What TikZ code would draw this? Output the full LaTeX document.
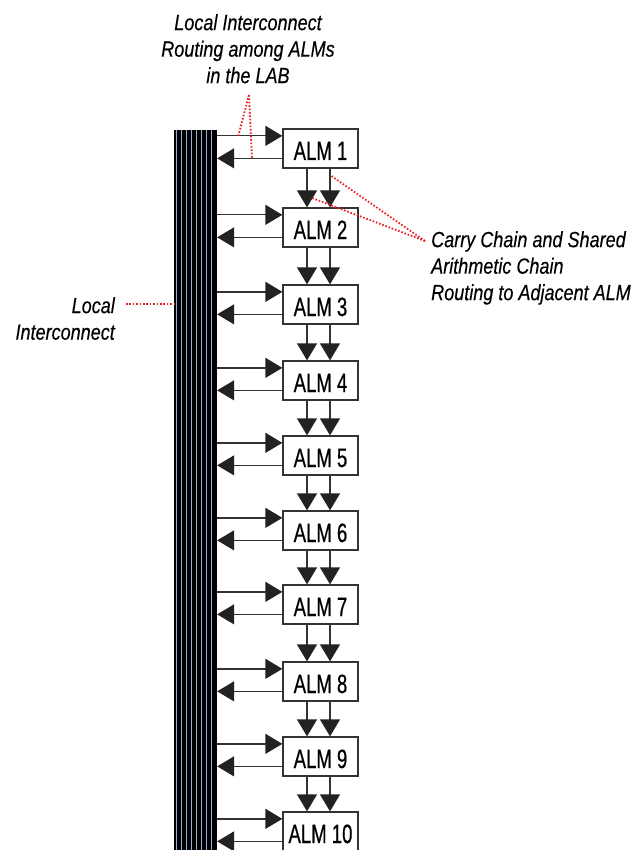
\documentclass[tikz,border=0pt]{standalone}
\usepackage{fontspec}
\setmainfont{Liberation Sans}
\newfontfamily\almfont{Liberation Sans}[FakeStretch=0.70,FakeBold=0.6]
\newfontfamily\lblfont{Liberation Sans}[FakeStretch=0.82,FakeBold=0.3]
\usetikzlibrary{arrows.meta,calc}
\definecolor{linegray}{HTML}{333333}
\definecolor{tipblack}{HTML}{222222}
\definecolor{stripeblue}{RGB}{150,175,212}
\definecolor{dotred}{RGB}{235,30,35}
\begin{document}
\begin{tikzpicture}[x=1pt,y=-1pt,
  alm/.style={draw=linegray, line width=1.3pt, fill=white, minimum width=75pt,
    minimum height=39pt, inner sep=0pt, font=\almfont\fontsize{26.5}{30}\selectfont,
    text height=23pt, text depth=0pt},
  conn/.style={draw=linegray, line width=1.3pt,
    -{Triangle[length=17pt,width=20pt,color=tipblack]}},
  bus/.style={fill=black, draw=none, minimum width=43pt, minimum height=720pt, inner sep=0pt},
  stripe/.style={draw=stripeblue, line width=1.5pt},
  lbl/.style={font=\lblfont\itshape\fontsize{22}{26.5}\selectfont, inner sep=0pt},
  reddot/.style={draw=dotred, line width=1.8pt, dash pattern=on 1.6pt off 1.8pt}]
\useasboundingbox (0,0) rectangle (640,850);
% bus
\node[bus] (bus) at (195.5,490) {};
\foreach \k in {0,...,7}
  \draw[stripe] ($(bus.north west)+(2.5+5*\k,0)$) -- ($(bus.south west)+(2.5+5*\k,0)$);
% ALMs
\foreach \i/\t in {1/129,2/208,3/285,4/361,5/436,6/511,7/585,8/662,9/737,10/812}
  \node[alm] (a\i) at (320.5,\t+19.5) {ALM \i};
\foreach \i in {1,...,10} {
  \coordinate (in\i) at ($(a\i.north west)+(0,7.5)$);
  \coordinate (out\i) at ($(a\i.north west)+(0,30)$);
  \draw[conn] (in\i -| bus.east) -- (in\i);
  \draw[conn] (out\i) -- (out\i -| bus.east);
}
\foreach \i in {1,...,9} {
  \pgfmathtruncatemacro{\j}{\i+1}
  \draw[conn] ($(a\i.south)+(-13.5,0)$) -- ($(a\j.north)+(-13.5,0)$);
  \draw[conn] ($(a\i.south)+(9.5,0)$) -- ($(a\j.north)+(9.5,0)$);
}
% labels
\node[lbl, anchor=north, align=center] (toplbl) at (248,14)
  {Local Interconnect\\Routing among ALMs\\in the LAB};
\node[lbl, anchor=north west, align=left] (rlbl) at (431,231)
  {Carry Chain and Shared\\Arithmetic Chain\\Routing to Adjacent ALM};
\node[lbl, anchor=north east, align=right] (llbl) at (115,297)
  {Local\\Interconnect};
% red dotted leaders
\coordinate (tp) at (249,95);
\coordinate (tpa) at (238,137);
\coordinate (tpb) at (252,158);
\draw[reddot] (tp) -- (tpa);
\draw[reddot] (tp) -- (tpb);
\coordinate (rp) at (425,241);
\coordinate (rpa) at (330,175);
\coordinate (rpb) at (312,198);
\draw[reddot] (rp) -- (rpa);
\draw[reddot] (rp) -- (rpb);
\coordinate (lp) at (126,304);
\draw[reddot] (lp) -- (lp -| bus.west);
\end{tikzpicture}
\end{document}
